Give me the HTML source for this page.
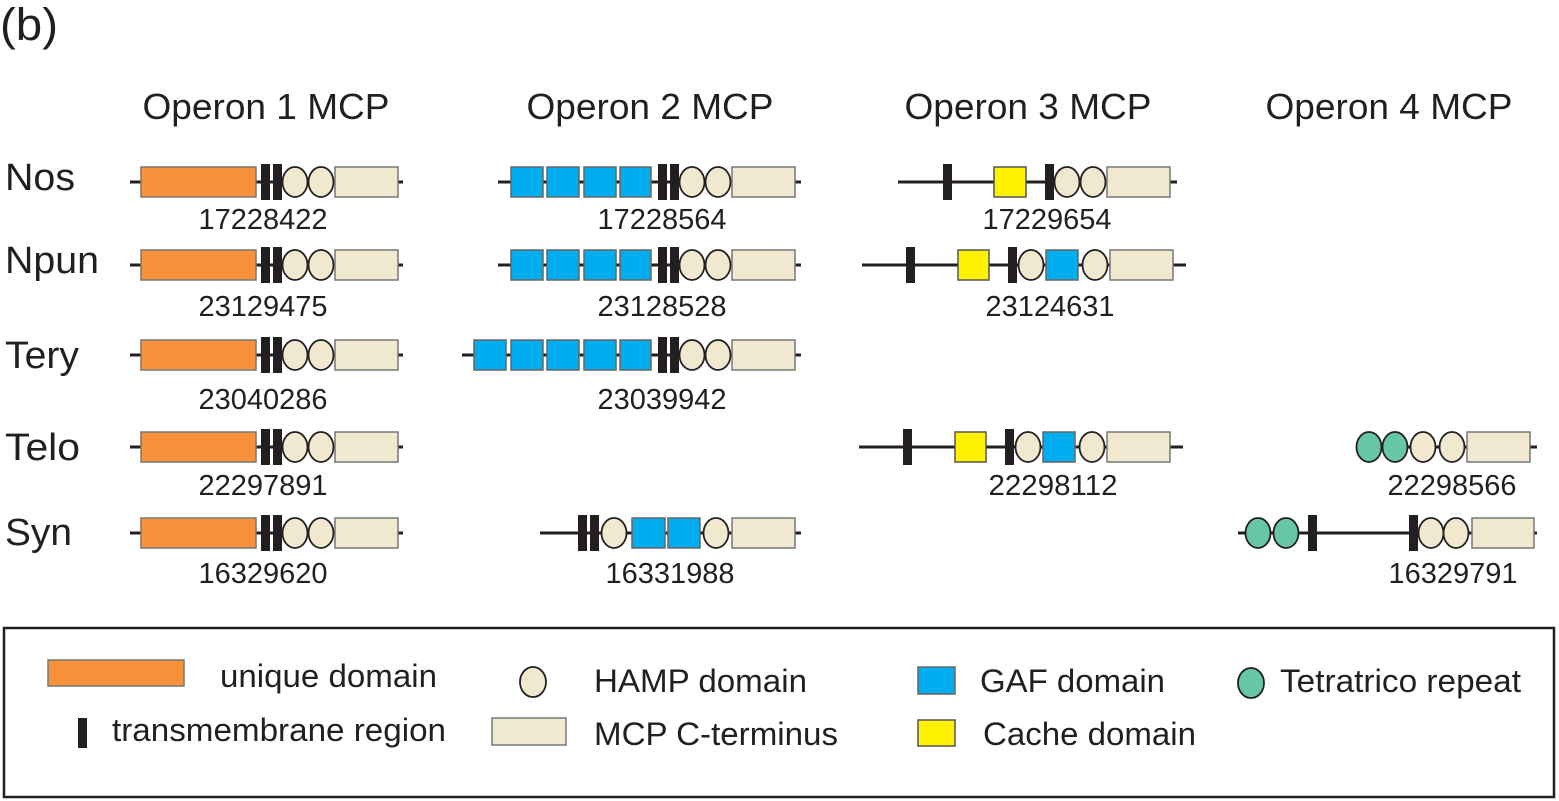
<!DOCTYPE html>
<html><head><meta charset="utf-8"><style>
html,body{margin:0;padding:0;background:#fff;}
svg{display:block;}
text{font-family:"Liberation Sans",Arial,sans-serif;fill:#231f20;}
.l{stroke:#231f20;stroke-width:3;}
.o{fill:#f7923a;stroke:#777;stroke-width:1.5;}
.b{fill:#00aeef;stroke:#666;stroke-width:1.5;}
.y{fill:#fff200;stroke:#555;stroke-width:1.5;}
.c{fill:#f0e8cf;stroke:#777;stroke-width:1.5;}
.e{fill:#f0e8cf;stroke:#231f20;stroke-width:1.8;}
.g{fill:#66c6a6;stroke:#231f20;stroke-width:1.8;}
.t{fill:#231f20;}
.n{font-size:29px;text-anchor:middle;}
.h{font-size:36px;text-anchor:middle;}
.r{font-size:38px;}
.lg{font-size:32px;}
</style></head><body>
<svg width="1559" height="801" viewBox="0 0 1559 801" xmlns="http://www.w3.org/2000/svg">
<text x="0" y="40" style="font-size:45px" textLength="58" lengthAdjust="spacingAndGlyphs">(b)</text>
<text class="h" x="266" y="119" textLength="247" lengthAdjust="spacingAndGlyphs">Operon 1 MCP</text>
<text class="h" x="650" y="119" textLength="247" lengthAdjust="spacingAndGlyphs">Operon 2 MCP</text>
<text class="h" x="1028" y="119" textLength="247" lengthAdjust="spacingAndGlyphs">Operon 3 MCP</text>
<text class="h" x="1389" y="119" textLength="247" lengthAdjust="spacingAndGlyphs">Operon 4 MCP</text>
<text class="r" x="5" y="190" textLength="70" lengthAdjust="spacingAndGlyphs">Nos</text>
<text class="r" x="5" y="273" textLength="94" lengthAdjust="spacingAndGlyphs">Npun</text>
<text class="r" x="5" y="368" textLength="74" lengthAdjust="spacingAndGlyphs">Tery</text>
<text class="r" x="5" y="460" textLength="75" lengthAdjust="spacingAndGlyphs">Telo</text>
<text class="r" x="5" y="545" textLength="67" lengthAdjust="spacingAndGlyphs">Syn</text>

<g id="op1">
<line class="l" x1="130" y1="182" x2="403" y2="182"/>
<rect class="o" x="141" y="167" width="115" height="30"/>
<rect class="t" x="261" y="164" width="9" height="36"/>
<rect class="t" x="273" y="164" width="9" height="36"/>
<ellipse class="e" cx="295" cy="182" rx="12.5" ry="15"/>
<ellipse class="e" cx="321" cy="182" rx="12.5" ry="15"/>
<rect class="c" x="335" y="167" width="63" height="30"/>
</g>
<use href="#op1" y="83"/>
<use href="#op1" y="173"/>
<use href="#op1" y="265"/>
<use href="#op1" y="351"/>
<text class="n" x="263" y="229" textLength="129" lengthAdjust="spacingAndGlyphs">17228422</text>
<text class="n" x="263" y="316" textLength="129" lengthAdjust="spacingAndGlyphs">23129475</text>
<text class="n" x="263" y="409" textLength="129" lengthAdjust="spacingAndGlyphs">23040286</text>
<text class="n" x="263" y="495" textLength="129" lengthAdjust="spacingAndGlyphs">22297891</text>
<text class="n" x="263" y="583" textLength="129" lengthAdjust="spacingAndGlyphs">16329620</text>

<g id="op2">
<line class="l" x1="498" y1="182" x2="801" y2="182"/>
<rect class="b" x="511" y="167" width="32" height="30"/>
<rect class="b" x="547" y="167" width="32" height="30"/>
<rect class="b" x="584" y="167" width="32" height="30"/>
<rect class="b" x="620" y="167" width="31" height="30"/>
<rect class="t" x="658" y="164" width="9" height="36"/>
<rect class="t" x="670" y="164" width="9" height="36"/>
<ellipse class="e" cx="692" cy="182" rx="12.5" ry="15"/>
<ellipse class="e" cx="718" cy="182" rx="12.5" ry="15"/>
<rect class="c" x="732" y="167" width="63" height="30"/>
</g>
<use href="#op2" y="83"/>
<g transform="translate(0,173)">
<line class="l" x1="462" y1="182" x2="520" y2="182"/>
<use href="#op2"/>
<rect class="b" x="474" y="167" width="32" height="30"/>
</g>
<line class="l" x1="540" y1="533" x2="801" y2="533"/>
<rect class="t" x="578" y="515" width="9" height="36"/>
<rect class="t" x="590" y="515" width="9" height="36"/>
<ellipse class="e" cx="614" cy="533" rx="12.5" ry="15"/>
<rect class="b" x="632" y="518" width="33" height="30"/>
<rect class="b" x="668" y="518" width="32" height="30"/>
<ellipse class="e" cx="716" cy="533" rx="12.5" ry="15"/>
<rect class="c" x="732" y="518" width="63" height="30"/>
<text class="n" x="662" y="229" textLength="129" lengthAdjust="spacingAndGlyphs">17228564</text>
<text class="n" x="662" y="316" textLength="129" lengthAdjust="spacingAndGlyphs">23128528</text>
<text class="n" x="662" y="409" textLength="129" lengthAdjust="spacingAndGlyphs">23039942</text>
<text class="n" x="670" y="583" textLength="129" lengthAdjust="spacingAndGlyphs">16331988</text>

<line class="l" x1="898" y1="182" x2="1177" y2="182"/>
<rect class="t" x="943" y="164" width="9" height="36"/>
<rect class="y" x="994" y="167" width="32" height="30"/>
<rect class="t" x="1045" y="164" width="9" height="36"/>
<ellipse class="e" cx="1067" cy="182" rx="12.5" ry="15"/>
<ellipse class="e" cx="1093" cy="182" rx="12.5" ry="15"/>
<rect class="c" x="1107" y="167" width="63" height="30"/>
<text class="n" x="1047" y="229" textLength="129" lengthAdjust="spacingAndGlyphs">17229654</text>

<g id="op3b">
<line class="l" x1="862" y1="265" x2="1186" y2="265"/>
<rect class="t" x="906" y="247" width="9" height="36"/>
<rect class="y" x="958" y="250" width="31" height="30"/>
<rect class="t" x="1008" y="247" width="9" height="36"/>
<ellipse class="e" cx="1031" cy="265" rx="12.5" ry="15"/>
<rect class="b" x="1046" y="250" width="32" height="30"/>
<ellipse class="e" cx="1095" cy="265" rx="12.5" ry="15"/>
<rect class="c" x="1110" y="250" width="63" height="30"/>
</g>
<text class="n" x="1050" y="316" textLength="129" lengthAdjust="spacingAndGlyphs">23124631</text>
<use href="#op3b" x="-3" y="182"/>
<text class="n" x="1053" y="495" textLength="129" lengthAdjust="spacingAndGlyphs">22298112</text>

<line class="l" x1="1380" y1="447" x2="1537" y2="447"/>
<ellipse class="g" cx="1369" cy="447" rx="12.5" ry="15"/>
<ellipse class="g" cx="1395" cy="447" rx="12.5" ry="15"/>
<ellipse class="e" cx="1423" cy="447" rx="12.5" ry="15"/>
<ellipse class="e" cx="1452" cy="447" rx="12.5" ry="15"/>
<rect class="c" x="1467" y="432" width="63" height="30"/>
<text class="n" x="1452" y="495" textLength="129" lengthAdjust="spacingAndGlyphs">22298566</text>

<line class="l" x1="1238" y1="533" x2="1537" y2="533"/>
<ellipse class="g" cx="1258" cy="533" rx="12.5" ry="15"/>
<ellipse class="g" cx="1286" cy="533" rx="12.5" ry="15"/>
<rect class="t" x="1308" y="515" width="9" height="36"/>
<rect class="t" x="1409" y="515" width="9" height="36"/>
<ellipse class="e" cx="1431" cy="533" rx="12.5" ry="15"/>
<ellipse class="e" cx="1456" cy="533" rx="12.5" ry="15"/>
<rect class="c" x="1472" y="518" width="62" height="30"/>
<text class="n" x="1453" y="583" textLength="129" lengthAdjust="spacingAndGlyphs">16329791</text>

<rect x="4" y="628" width="1550" height="169" fill="none" stroke="#231f20" stroke-width="2.5"/>
<rect class="o" x="48" y="660" width="136" height="26"/>
<text class="lg" x="220" y="687" textLength="217" lengthAdjust="spacingAndGlyphs">unique domain</text>
<rect class="t" x="78" y="718" width="9" height="30"/>
<text class="lg" x="112" y="741" textLength="334" lengthAdjust="spacingAndGlyphs">transmembrane region</text>
<ellipse class="e" cx="533" cy="682" rx="13" ry="15"/>
<text class="lg" x="594" y="692" textLength="213" lengthAdjust="spacingAndGlyphs">HAMP domain</text>
<rect class="c" x="492" y="718" width="74" height="27"/>
<text class="lg" x="594" y="745" textLength="244" lengthAdjust="spacingAndGlyphs">MCP C-terminus</text>
<rect class="b" x="918" y="667" width="37" height="27"/>
<text class="lg" x="980" y="692" textLength="185" lengthAdjust="spacingAndGlyphs">GAF domain</text>
<rect class="y" x="918" y="720" width="37" height="26"/>
<text class="lg" x="983" y="745" textLength="213" lengthAdjust="spacingAndGlyphs">Cache domain</text>
<ellipse class="g" cx="1251" cy="683" rx="13" ry="15"/>
<text class="lg" x="1280" y="692" textLength="241" lengthAdjust="spacingAndGlyphs">Tetratrico repeat</text>
</svg>
</body></html>
